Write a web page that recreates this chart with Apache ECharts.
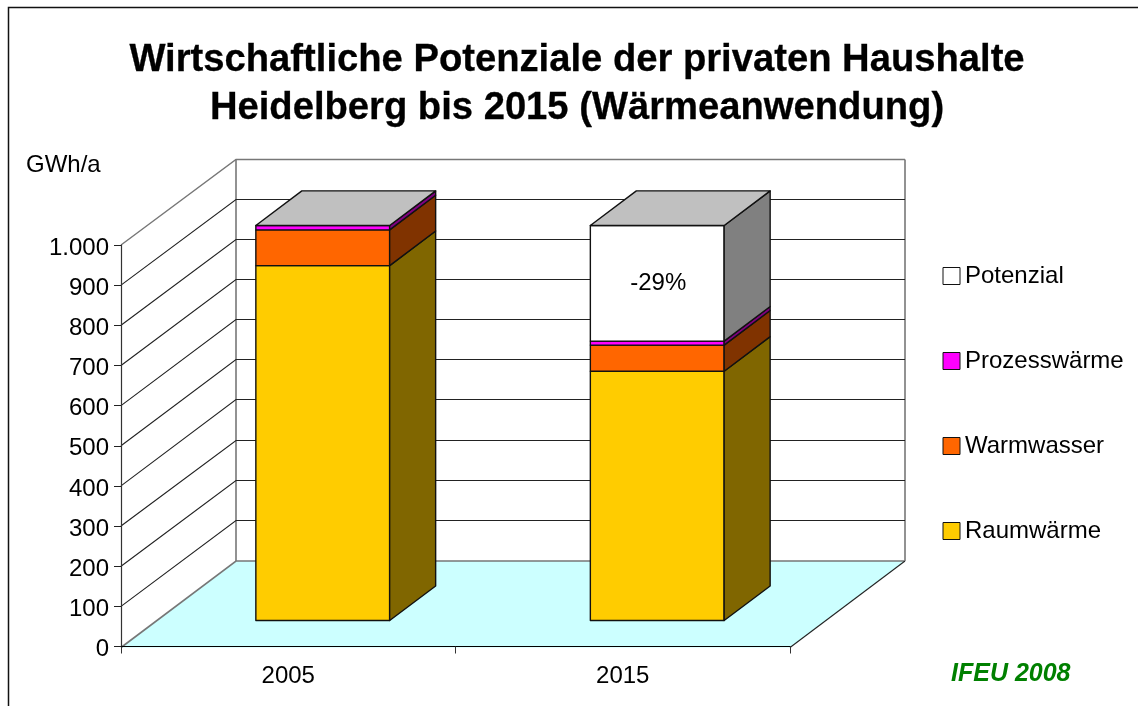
<!DOCTYPE html>
<html>
<head>
<meta charset="utf-8">
<style>html,body{margin:0;padding:0;background:#fff}#c{width:1138px;height:706px}</style>
<script src="https://cdn.jsdelivr.net/npm/echarts@6/dist/echarts.min.js"></script>
</head>
<body>
<div id="c"></div>
<script>
const categories = ['2005', '2015'];
const raumwaerme = [884, 621];
const warmwasser = [89, 65];
const prozesswaerme = [11, 10];
const potenzial = [0, 288];
const potenzialLabels = ['', '-29%'];
const yTicks = [100, 200, 300, 400, 500, 600, 700, 800, 900, 1000];
const legendOrder = ['Potenzial', 'Prozesswärme', 'Warmwasser', 'Raumwärme'];
const titleText = 'Wirtschaftliche Potenziale der privaten Haushalte\nHeidelberg bis 2015 (Wärmeanwendung)';

const FONT = '"Liberation Sans", Arial, sans-serif';
const WALL_DX = 115, WALL_DY = -86.5;   // oblique projection of the full depth
const BAR_START = 0.3, BAR_DEPTH = 0.4, BAR_WIDTH = 0.4; // fractions of depth / band
const GREY = '#777777', GRID = '#222222';

const crisp = v => Math.round(v) + 0.5;

function renderFloor(params, api) {
  const cs = params.coordSys;
  const y0 = crisp(api.coord([0, 0])[1]);
  const l = cs.x, r = cs.x + cs.width;
  return { type: 'group', children: [
    { type: 'polygon', shape: { points: [[l, y0], [l + WALL_DX, y0 + WALL_DY], [r + WALL_DX, y0 + WALL_DY], [r, y0]] },
      style: { fill: '#CCFFFF', stroke: null } },
    { type: 'polyline', shape: { points: [[l, y0], [l + WALL_DX, y0 + WALL_DY], [r + WALL_DX, y0 + WALL_DY]] },
      style: { fill: null, stroke: GREY, lineWidth: 1.6 } },
    { type: 'polyline', shape: { points: [[r + WALL_DX, y0 + WALL_DY], [r, y0]] },
      style: { fill: null, stroke: '#222', lineWidth: 1.1 } },
    { type: 'polyline', shape: { points: [[l + WALL_DX, y0 + WALL_DY], [l + WALL_DX, y0 + WALL_DY - cs.height]] },
      style: { fill: null, stroke: GREY, lineWidth: 1.6 } },
    { type: 'polyline', shape: { points: [[r + WALL_DX, y0 + WALL_DY], [r + WALL_DX, y0 + WALL_DY - cs.height]] },
      style: { fill: null, stroke: GREY, lineWidth: 1.6 } }
  ]};
}

function renderGrid(params, api) {
  const cs = params.coordSys;
  const v = api.value(0);
  const y = api.coord([0, v])[1];
  const l = cs.x, r = cs.x + cs.width;
  const by = Math.round(y + WALL_DY) + 0.5;
  const stroke = v === 1000 ? GREY : GRID;
  return { type: 'polyline', shape: { points: [[l, y], [l + WALL_DX, by], [r + WALL_DX, by]] },
    style: { fill: null, stroke: stroke, lineWidth: v === 1000 ? 1.4 : 1.1 } };
}

function makeBarRenderer(front, side, top, labels) {
  return function (params, api) {
    const i = api.value(0);
    const topV = api.value(1), baseV = api.value(2);
    const cTop = api.coord([i, topV]), cBase = api.coord([i, baseV]);
    const band = api.size([1, 0])[0];
    const w = band * BAR_WIDTH;
    const ox = WALL_DX * BAR_START, oy = WALL_DY * BAR_START;
    const dx = WALL_DX * BAR_DEPTH, dy = WALL_DY * BAR_DEPTH;
    const xl = cTop[0] - w / 2 + ox, xr = xl + w;
    const yt = cTop[1] + oy, yb = cBase[1] + oy;
    const line = { stroke: '#111', lineWidth: 1.4, lineJoin: 'round' };
    const children = [];
    if (topV > baseV) {
      children.push({ type: 'polygon', shape: { points: [[xl, yb], [xr, yb], [xr, yt], [xl, yt]] },
        style: Object.assign({ fill: front }, line) });
      children.push({ type: 'polygon', shape: { points: [[xr, yb], [xr + dx, yb + dy], [xr + dx, yt + dy], [xr, yt]] },
        style: Object.assign({ fill: side }, line) });
    }
    if (top) {
      children.push({ type: 'polygon', shape: { points: [[xl, yt], [xr, yt], [xr + dx, yt + dy], [xl + dx, yt + dy]] },
        style: Object.assign({ fill: top }, line) });
    }
    if (labels && labels[i]) {
      children.push({ type: 'text', style: { text: labels[i], x: (xl + xr) / 2 + 1, y: (yt + yb) / 2,
        align: 'center', verticalAlign: 'middle', fill: '#000', font: '24px ' + FONT } });
    }
    return { type: 'group', children: children };
  };
}

function stackData(values, below) {
  return values.map((v, i) => {
    const base = below.reduce((s, arr) => s + arr[i], 0);
    return [i, base + v, base];
  });
}

function barSeries(name, values, below, front, side, top, labels) {
  return { type: 'custom', name: name, coordinateSystem: 'cartesian2d', clip: false, silent: true,
    itemStyle: { color: front }, encode: { x: 0, y: 1 },
    data: stackData(values, below), renderItem: makeBarRenderer(front, side, top, labels) };
}

const chart = echarts.init(document.getElementById('c'), null, { renderer: 'canvas' });
chart.setOption({
  animation: false,
  backgroundColor: '#fff',
  title: { text: titleText, left: 572, top: 31, textAlign: 'center',
    textStyle: { fontFamily: FONT, fontSize: 38.2, fontWeight: 'bold', color: '#000', lineHeight: 48,
      textBorderColor: '#000', textBorderWidth: 0.3 } },
  legend: { orient: 'vertical', left: 937.5, top: 259, itemWidth: 17, itemHeight: 17, itemGap: 61, selectedMode: false,
    icon: 'rect',
    itemStyle: { borderColor: '#111', borderWidth: 1 },
    textStyle: { fontFamily: FONT, fontSize: 24, color: '#000' },
    data: legendOrder },
  grid: { left: 121, top: 245, width: 669, height: 401.5 },
  xAxis: { type: 'category', data: categories,
    axisLine: { lineStyle: { color: '#000', width: 1.2 } },
    axisTick: { show: true, length: 7, alignWithLabel: false, lineStyle: { color: '#333' } },
    axisLabel: { color: '#000', fontFamily: FONT, fontSize: 24, margin: 18 },
    splitLine: { show: false } },
  yAxis: { type: 'value', min: 0, max: 1000, interval: 100,
    axisLine: { show: true, lineStyle: { color: '#333', width: 1.2 } },
    axisTick: { show: true, length: 7, lineStyle: { color: '#222' } },
    axisLabel: { color: '#000', fontFamily: FONT, fontSize: 24, margin: 12, verticalAlign: 'top', lineHeight: 6,
      formatter: v => v >= 1000 ? String(v).replace(/(\d)(\d{3})$/, '$1.$2') : String(v) },
    splitLine: { show: false } },
  graphic: [
    { type: 'polyline', silent: true, shape: { points: [[8.5, 706], [8.5, 7.5], [1138, 7.5]] },
      style: { fill: null, stroke: '#111', lineWidth: 1.5 } },
    { type: 'text', silent: true, left: 26, top: 153, style: { text: 'GWh/a', fill: '#000', font: '24px ' + FONT } },
    { type: 'text', silent: true, left: 951, top: 662, style: { text: 'IFEU 2008', fill: '#008000', font: 'italic bold 25px ' + FONT } }
  ],
  series: [
    { type: 'custom', name: 'floor', coordinateSystem: 'cartesian2d', clip: false, silent: true, z: 0,
      data: [[0, 0]], encode: { x: 0, y: 1 }, renderItem: renderFloor },
    { type: 'custom', name: 'grid', coordinateSystem: 'cartesian2d', clip: false, silent: true, z: 0,
      data: yTicks.map(v => [v]), encode: { y: 0 }, renderItem: renderGrid },
    barSeries('Raumwärme', raumwaerme, [], '#FFCC00', '#806600', null, null),
    barSeries('Warmwasser', warmwasser, [raumwaerme], '#FF6600', '#803300', null, null),
    barSeries('Prozesswärme', prozesswaerme, [raumwaerme, warmwasser], '#FF00FF', '#800080', null, null),
    barSeries('Potenzial', potenzial, [raumwaerme, warmwasser, prozesswaerme], '#FFFFFF', '#808080', '#C0C0C0', potenzialLabels)
  ]
});
</script>
</body>
</html>
